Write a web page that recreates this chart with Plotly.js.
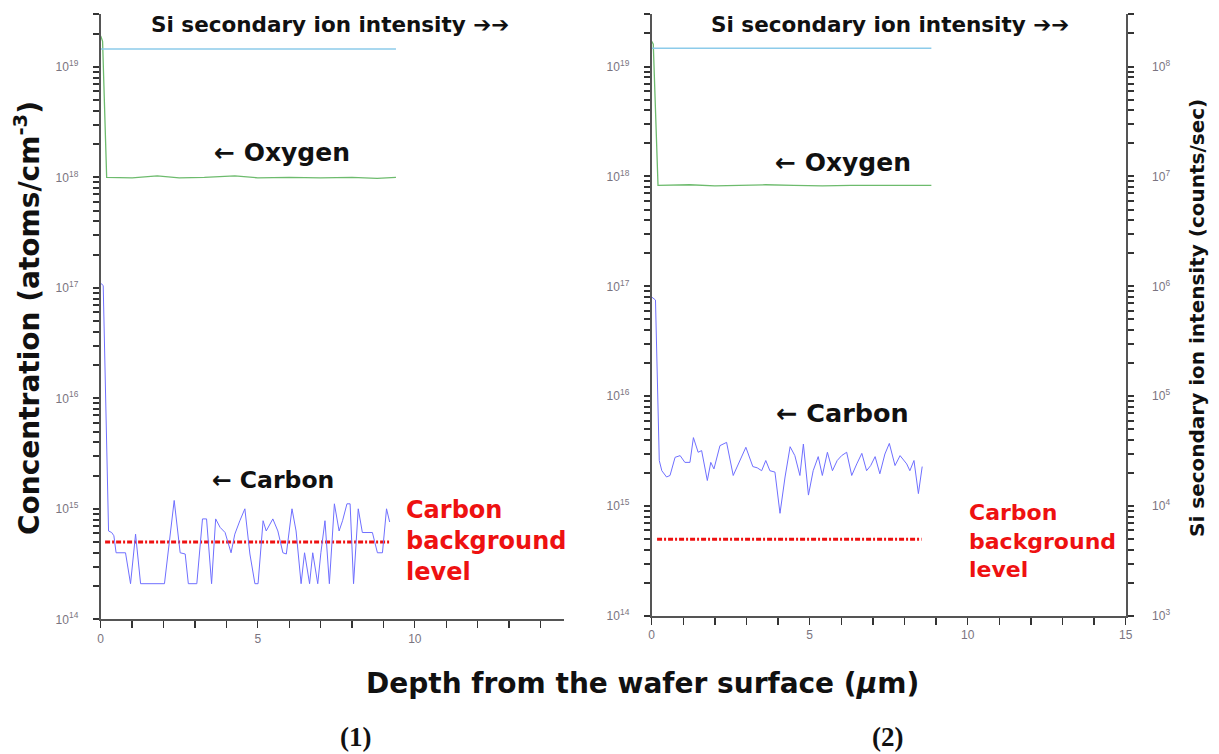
<!DOCTYPE html>
<html>
<head>
<meta charset="utf-8">
<script src="https://cdn.plot.ly/plotly-3.0.1.min.js"></script>
<style>html,body{margin:0;padding:0;background:#fff;}#chart{width:1219px;height:754px;}</style>
</head>
<body>
<div id="chart"></div>
<script>
// ---------- data ----------
// Panel (1)
const carbon1X = [0.0,0.08,0.25,0.35,0.42,0.49,0.79,0.95,1.11,1.27,2.03,2.34,2.53,2.69,2.79,3.06,3.24,3.37,3.53,3.66,3.80,3.96,4.15,4.27,4.43,4.59,4.75,4.91,5.01,5.17,5.27,5.48,5.64,5.80,5.91,6.09,6.22,6.38,6.49,6.65,6.75,6.91,7.01,7.14,7.28,7.44,7.59,7.70,7.84,7.94,8.05,8.20,8.33,8.65,8.81,8.97,9.10,9.20];
const carbon1Y = [1.1e17,1.05e17,6.3e14,6.1e14,5.7e14,4.0e14,4.0e14,2.1e14,5.9e14,2.1e14,2.1e14,1.19e15,4.0e14,3.9e14,2.1e14,2.1e14,8.1e14,8.1e14,2.1e14,8.1e14,6.8e14,6.1e14,4.0e14,5.9e14,7.8e14,1.0e15,3.9e14,2.1e14,2.1e14,7.8e14,6.3e14,8.1e14,6.3e14,4.0e14,3.9e14,1.0e15,6.3e14,2.1e14,4.0e14,2.1e14,4.0e14,2.1e14,4.0e14,7.8e14,2.1e14,1.11e15,6.3e14,7.8e14,1.11e15,1.11e15,2.1e14,1.0e15,6.1e14,6.1e14,4.0e14,4.0e14,1.0e15,7.6e14];
const oxygen1X = [0.0,0.06,0.19,0.5,1.0,1.8,2.5,3.3,4.27,5.0,6.0,7.0,8.0,8.8,9.4];
const oxygen1Y = [1.9e19,1.7e19,1.0e18,1.0e18,0.99e18,1.03e18,0.99e18,1.0e18,1.03e18,0.99e18,1.0e18,0.99e18,1.0e18,0.98e18,1.0e18];
const si1X = [0.0,9.4];
const si1Y = [1.45e8,1.45e8];
const bg1X = [0.14,9.22];
const bg1Y = [5e14,5e14];

// Panel (2)
const carbon2X = [0.0,0.12,0.24,0.32,0.47,0.58,0.74,0.90,1.05,1.21,1.32,1.47,1.58,1.76,1.87,1.97,2.16,2.37,2.58,2.74,2.98,3.20,3.34,3.48,3.61,3.74,3.90,4.06,4.22,4.38,4.53,4.69,4.80,4.96,5.11,5.27,5.40,5.56,5.72,5.87,6.01,6.17,6.33,6.49,6.65,6.80,6.93,7.07,7.22,7.38,7.52,7.70,7.86,8.07,8.17,8.30,8.44,8.56];
const carbon2Y = [8e16,7.5e16,2.6e15,2.1e15,1.84e15,1.9e15,2.78e15,2.88e15,2.5e15,2.5e15,4.2e15,3.09e15,3.2e15,1.71e15,2.5e15,2.18e15,3.55e15,3.8e15,1.9e15,2.42e15,3.43e15,2.29e15,2.23e15,2.1e15,2.6e15,2.1e15,2.04e15,8.6e14,1.84e15,3.47e15,2.88e15,1.9e15,3.67e15,1.26e15,2.1e15,2.82e15,1.9e15,3.09e15,2.1e15,2.6e15,2.88e15,3.09e15,1.9e15,2.42e15,3.02e15,2.1e15,2.34e15,2.82e15,1.97e15,2.98e15,3.72e15,2.34e15,2.88e15,2.42e15,2.1e15,2.6e15,1.3e15,2.29e15];
const oxygen2X = [0.0,0.05,0.2,0.6,1.2,2.0,2.8,3.6,4.5,5.4,6.3,7.2,8.0,8.85];
const oxygen2Y = [1.7e19,1.6e19,8.3e17,8.3e17,8.4e17,8.2e17,8.3e17,8.4e17,8.3e17,8.2e17,8.3e17,8.3e17,8.2e17,8.3e17];
const si2X = [0.0,8.85];
const si2Y = [1.47e8,1.47e8];
const bg2X = [0.17,8.54];
const bg2Y = [5e14,5e14];

// tick labels
const depthTicks1 = [0,5,10];
const depthTicks2 = [0,5,10,15];
const concDecades = [14,15,16,17,18,19];
const siDecades = [3,4,5,6,7,8];

// ---------- layout helpers ----------
const W = 1219, H = 754;
const fx = p => p / W;
const fy = p => 1 - p / H;

// all tick positions (decades labelled, 2..9 multiples unlabelled)
function logTicks(decades) {
  const vals = [], text = [];
  decades.forEach((d, i) => {
    vals.push(Math.pow(10, d)); text.push('10<sup>' + d + '</sup>');
    for (let m = 2; m <= 9; m++) { vals.push(m * Math.pow(10, d)); text.push(''); }
  });
  return {vals, text};
}
function linTicks(labels, max) {
  const vals = [], text = [];
  for (let i = 0; i <= max; i++) { vals.push(i); text.push(labels.indexOf(i) >= 0 ? String(i) : ''); }
  return {vals, text};
}

const cCarbon = '#6f6fff', cOxy = '#6dbb6d', cSi = '#8ccbea', cBg = '#ee1111';
const axisCol = '#555';
const tickFont = {family: 'Liberation Sans, Arial, sans-serif', size: 12, color: '#7a7480'};
const boldFont = 'DejaVu Sans, Liberation Sans, Arial, sans-serif';

function line(x, y, xa, ya, color, width, dash) {
  return {x, y, xaxis: xa, yaxis: ya, type: 'scatter', mode: 'lines',
    line: {color, width, dash: dash || 'solid'}, hoverinfo: 'skip', showlegend: false};
}

const traces = [
  line(si1X, si1Y, 'x', 'y3', cSi, 1.5),
  line(oxygen1X, oxygen1Y, 'x', 'y', cOxy, 1.3),
  line(bg1X, bg1Y, 'x', 'y', cBg, 3, '5px,2px,2px,2px'),
  line(carbon1X, carbon1Y, 'x', 'y', cCarbon, 1),
  line(si2X, si2Y, 'x2', 'y4', cSi, 1.5),
  line(oxygen2X, oxygen2Y, 'x2', 'y2', cOxy, 1.3),
  line(bg2X, bg2Y, 'x2', 'y2', cBg, 3, '5px,2px,2px,2px'),
  line(carbon2X, carbon2Y, 'x2', 'y2', cCarbon, 1)
];

function xaxisDef(domain, range, labels, anchor) {
  const t = linTicks(labels, Math.floor(range[1]));
  return {domain, range, anchor, showline: true, linecolor: axisCol, linewidth: 2,
    tickmode: 'array', ticks: 'outside', ticklen: 7, tickwidth: 1.3, tickcolor: '#333',
    tickvals: t.vals, ticktext: t.text, tickfont: tickFont,
    showgrid: false, zeroline: false, fixedrange: true};
}
function yaxisDef(domain, range, anchor, side, decades, extra) {
  const t = logTicks(decades);
  return Object.assign({domain, range, anchor, side, type: 'log', showline: true, linecolor: axisCol, linewidth: 2,
    ticks: 'outside', ticklen: 6, tickwidth: 2, tickcolor: '#333', tickmode: 'array',
    tickvals: t.vals, ticktext: t.text, tickfont: tickFont,
    showgrid: false, zeroline: false, fixedrange: true, ticklabelstandoff: 12}, extra || {});
}

const dx1 = [fx(100.7), fx(564)];
const dy1 = [fy(619.3), fy(13.8)];
const dx2 = [fx(651.7), fx(1125.7)];
const dy2 = [fy(616), fy(13.8)];

function ann(text, px, py, size, color, extra) {
  return Object.assign({text, x: fx(px), y: fy(py), xref: 'paper', yref: 'paper', xanchor: 'center', yanchor: 'middle',
    showarrow: false, font: {family: boldFont, size, color, weight: 'bold'}}, extra || {});
}
const serif = {family: 'Liberation Serif, Times New Roman, serif', size: 27, color: '#111', weight: 'bold'};

const layout = {
  width: W, height: H, margin: {l: 0, r: 0, t: 0, b: 0},
  paper_bgcolor: '#fff', plot_bgcolor: 'rgba(0,0,0,0)', showlegend: false,
  xaxis: xaxisDef(dx1, [0, 14.75], depthTicks1, 'y'),
  xaxis2: xaxisDef(dx2, [0, 15], depthTicks2, 'y2'),
  yaxis: yaxisDef(dy1, [14, 19.48], 'x', 'left', concDecades),
  yaxis2: yaxisDef(dy2, [14, 19.48], 'x2', 'left', concDecades),
  yaxis3: {domain: dy1, range: [3, 8.48], type: 'log', overlaying: 'y', anchor: 'x', side: 'right', visible: false, fixedrange: true},
  yaxis4: yaxisDef(dy2, [3, 8.48], 'x2', 'right', siDecades, {overlaying: 'y2', ticklabelstandoff: 16}),
  annotations: [
    ann('Si secondary ion intensity ➔➔', 330, 24, 21.5, '#111'),
    ann('Si secondary ion intensity ➔➔', 890, 24, 21.5, '#111'),
    ann('← Oxygen', 282, 153, 25, '#111'),
    ann('← Oxygen', 843, 162, 25, '#111'),
    ann('← Carbon', 273, 480, 23.5, '#111'),
    ann('← Carbon', 842, 413, 25.5, '#111'),
    ann('Carbon<br>background<br>level', 404, 541, 24, cBg, {xanchor: 'left', align: 'left'}),
    ann('Carbon<br>background<br>level', 967, 541, 22, cBg, {xanchor: 'left', align: 'left'}),
    ann('Concentration (atoms/cm<sup>-3</sup>)', 27, 318, 28, '#111', {textangle: -90}),
    ann('Si secondary ion intensity (counts/sec)', 1197, 318, 20, '#111', {textangle: -90}),
    ann('Depth from the wafer surface (<i>μ</i>m)', 642, 683, 28, '#111'),
    ann('(1)', 356, 737, 27, '#111', {font: serif}),
    ann('(2)', 887, 737, 27, '#111', {font: serif})
  ]
};

Plotly.newPlot('chart', traces, layout, {staticPlot: true, displayModeBar: false});
</script>
</body>
</html>
